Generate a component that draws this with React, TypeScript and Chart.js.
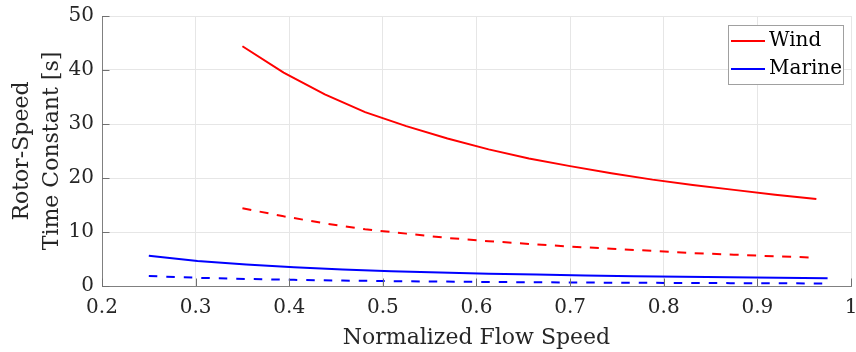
import React, { useEffect, useRef } from "react";
import { Chart, registerables } from "chart.js";

Chart.register(...registerables);

// Flow speed (normalized) sample points
const windSpeed = [0.35, 0.394, 0.438, 0.481, 0.525, 0.569, 0.613, 0.656, 0.7, 0.744, 0.788, 0.831, 0.875, 0.919, 0.963];
const windSolid = [44.4, 39.5, 35.5, 32.2, 29.6, 27.3, 25.3, 23.6, 22.2, 20.9, 19.7, 18.7, 17.8, 16.9, 16.1];
const windDashed = [14.4, 12.9, 11.6, 10.5, 9.7, 8.9, 8.3, 7.8, 7.3, 6.9, 6.5, 6.1, 5.8, 5.5, 5.25];

const marineSpeed = [0.25, 0.302, 0.354, 0.405, 0.457, 0.509, 0.561, 0.613, 0.664, 0.716, 0.768, 0.82, 0.871, 0.923, 0.975];
const marineSolid = [5.6, 4.64, 3.96, 3.46, 3.06, 2.75, 2.5, 2.28, 2.11, 1.96, 1.82, 1.71, 1.61, 1.52, 1.44];
const marineDashed = [1.84, 1.52, 1.3, 1.14, 1.01, 0.9, 0.82, 0.75, 0.69, 0.64, 0.6, 0.56, 0.53, 0.5, 0.47];

const legendLabels = ["Wind", "Marine"];
const xTitle = "Normalized Flow Speed";
const yTitle = ["Rotor-Speed", "Time Constant [s]"];

const FONT = "'DejaVu Serif', serif";
const TEXT = "#262626";

const pts = (xs: number[], ys: number[]) => xs.map((x, i) => ({ x, y: ys[i] }));

const innerTicks = {
  id: "innerTicks",
  afterDatasetsDraw(chart: any) {
    const { ctx, chartArea, scales } = chart;
    const len = 7.5;
    ctx.save();
    ctx.strokeStyle = "#707070";
    ctx.lineWidth = 1;
    ctx.beginPath();
    scales.x.ticks.forEach((t: any) => {
      const px = Math.round(scales.x.getPixelForValue(t.value)) + 0.5;
      ctx.moveTo(px, chartArea.bottom);
      ctx.lineTo(px, chartArea.bottom - len);
    });
    scales.y.ticks.forEach((t: any) => {
      const py = Math.round(scales.y.getPixelForValue(t.value)) + 0.5;
      ctx.moveTo(chartArea.left, py);
      ctx.lineTo(chartArea.left + len, py);
    });
    ctx.stroke();
    ctx.restore();
  },
};

const boxLegend = {
  id: "boxLegend",
  afterDraw(chart: any) {
    const { ctx, chartArea } = chart;
    const items = chart.data.datasets.filter((d: any) => d.inLegend);
    const w = 115;
    const h = 59;
    const x0 = chartArea.right - 8 - w;
    const y0 = chartArea.top + 9;
    ctx.save();
    ctx.fillStyle = "#ffffff";
    ctx.fillRect(x0, y0, w, h);
    ctx.strokeStyle = "#a0a0a0";
    ctx.lineWidth = 1;
    ctx.strokeRect(Math.round(x0) + 0.5, Math.round(y0) + 0.5, w, h);
    ctx.font = `20px ${FONT}`;
    ctx.textBaseline = "alphabetic";
    ctx.textAlign = "left";
    items.forEach((d: any, i: number) => {
      const ly = y0 + 16 + i * 28;
      ctx.strokeStyle = d.borderColor;
      ctx.lineWidth = 2;
      ctx.beginPath();
      ctx.moveTo(x0 + 3, ly);
      ctx.lineTo(x0 + 37, ly);
      ctx.stroke();
      ctx.fillStyle = "#000000";
      ctx.fillText(d.label, x0 + 41, ly + 5);
    });
    ctx.restore();
  },
};

export default function App() {
  const ref = useRef<HTMLCanvasElement | null>(null);
  useEffect(() => {
    if (!ref.current) return;
    const chart = new Chart(ref.current, {
      type: "line",
      data: {
        datasets: [
          { label: legendLabels[0], inLegend: true, data: pts(windSpeed, windSolid), borderColor: "#ff0000", borderWidth: 2, pointRadius: 0, tension: 0, fill: false } as any,
          { label: legendLabels[1], inLegend: true, data: pts(marineSpeed, marineSolid), borderColor: "#0000ff", borderWidth: 2, pointRadius: 0, tension: 0, fill: false } as any,
          { label: legendLabels[0] + " (dashed)", data: pts(windSpeed, windDashed), borderColor: "#ff0000", borderWidth: 2, borderDash: [9, 8.5], pointRadius: 0, tension: 0, fill: false },
          { label: legendLabels[1] + " (dashed)", data: pts(marineSpeed, marineDashed), borderColor: "#0000ff", borderWidth: 2, borderDash: [8.5, 9], pointRadius: 0, tension: 0, fill: false },
        ],
      },
      options: {
        responsive: false,
        animation: false,
        events: [],
        layout: { padding: { top: 16, right: 5, left: 0, bottom: 0 } },
        plugins: { legend: { display: false }, tooltip: { enabled: false } },
        scales: {
          x: {
            type: "linear",
            min: 0.2,
            max: 1,
            afterFit: (s: any) => { s.height = 66; s.paddingRight = 0; s.paddingLeft = 0; },
            ticks: {
              stepSize: 0.1,
              color: TEXT,
              padding: 10,
              font: { family: FONT, size: 20 },
              callback: (v: any) => { const n = Math.round(Number(v) * 10) / 10; return n === 1 ? "1" : n.toFixed(1); },
              maxRotation: 0,
            },
            grid: { color: "#e6e6e6", drawTicks: false, lineWidth: 1 },
            border: { color: "#808080", width: 1 },
            title: { display: true, text: xTitle, color: TEXT, font: { family: FONT, size: 22, lineHeight: 1.2 }, padding: { top: 0, bottom: 1 } },
          },
          y: {
            min: 0,
            max: 50,
            afterFit: (s: any) => { s.width = 102; s.paddingTop = 0; s.paddingBottom = 0; },
            ticks: { stepSize: 10, color: TEXT, padding: 8, font: { family: FONT, size: 20 } },
            grid: { color: "#e6e6e6", drawTicks: false, lineWidth: 1 },
            border: { color: "#808080", width: 1 },
            title: { display: true, text: yTitle, color: TEXT, font: { family: FONT, size: 22, lineHeight: 1.36 }, padding: { top: 7, bottom: 0 } },
          },
        },
      },
      plugins: [innerTicks, boxLegend],
    });
    return () => chart.destroy();
  }, []);
  return (
    <div style={{ position: "fixed", left: 0, top: 0, width: 856, height: 352, background: "#fff" }}>
      <canvas ref={ref} width={856} height={352} />
    </div>
  );
}
